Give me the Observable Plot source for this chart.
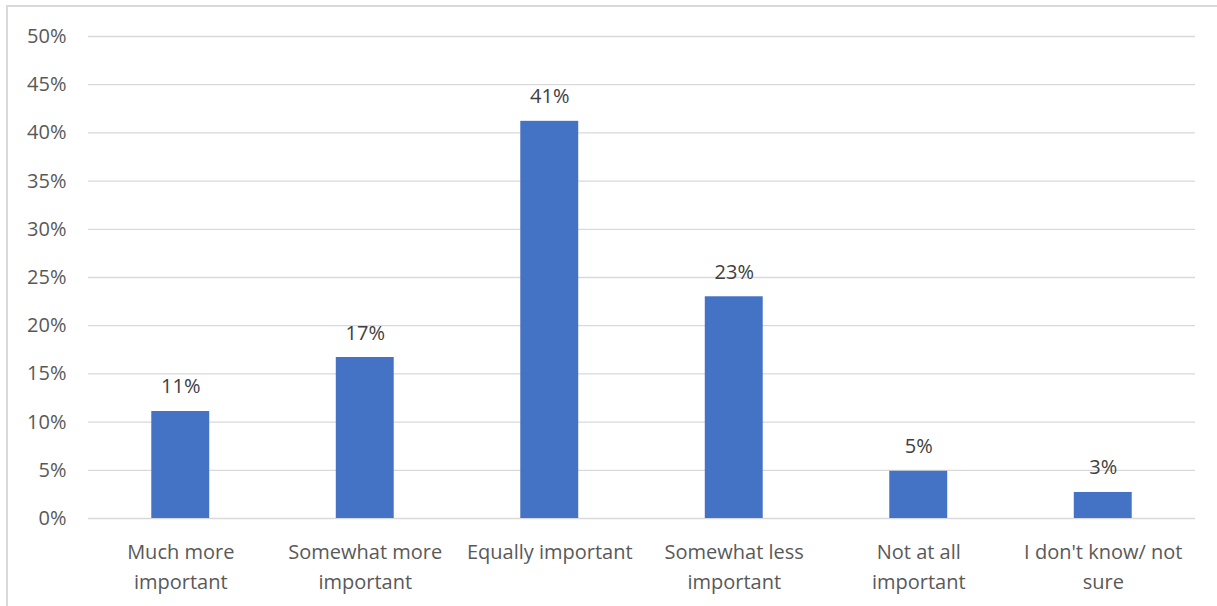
<!DOCTYPE html>
<html>
<head>
<meta charset="utf-8">
<script src="https://cdn.jsdelivr.net/npm/d3@7"></script>
<script src="https://cdn.jsdelivr.net/npm/@observablehq/plot@0.6"></script>
<style>
  html, body { margin: 0; padding: 0; background: #fff; }
  #wrap { position: relative; width: 1217px; height: 606px; overflow: hidden; }
  #frame { position: absolute; left: 6px; top: 5px; width: 1300px; height: 700px; border-left: 2px solid #d9d9d9; border-top: 2px solid #d9d9d9; box-sizing: border-box; pointer-events: none; }
  svg { font-family: "Open Sans", sans-serif; }
</style>
</head>
<body>
<div id="wrap"><div id="frame"></div><div id="chart"></div></div>
<script>
const categories = ["Much more important", "Somewhat more important", "Equally important", "Somewhat less important", "Not at all important", "I don't know/ not sure"];
const tickLabels = ["Much more\nimportant", "Somewhat more\nimportant", "Equally important", "Somewhat less\nimportant", "Not at all\nimportant", "I don't know/ not\nsure"];
const values = [11.1, 16.7, 41.2, 23.0, 4.9, 2.7];
const valueLabels = ["11%", "17%", "41%", "23%", "5%", "3%"];
const yTicks = [0, 5, 10, 15, 20, 25, 30, 35, 40, 45, 50];

const data = categories.map((c, i) => ({category: c, value: values[i], label: valueLabels[i]}));
const labelOf = new Map(categories.map((c, i) => [c, tickLabels[i]]));

const chart = Plot.plot({
  width: 1217,
  height: 606,
  marginLeft: 88,
  marginRight: 22,
  marginTop: 36,
  marginBottom: 88,
  style: {fontFamily: "Open Sans, sans-serif", color: "#595959", background: "transparent"},
  x: {domain: categories, paddingInner: 0.686, paddingOuter: 0.343, round: false, label: null},
  y: {domain: [0, 50], label: null},
  marks: [
    Plot.gridY(yTicks, {stroke: "#d9d9d9", strokeOpacity: 1, strokeWidth: 1.3}),
    Plot.axisY(yTicks, {tickSize: 0, tickPadding: 22, fontSize: 20, fill: "#595959", tickFormat: d => d + "%", label: null}),
    Plot.axisX({tickSize: 0, tickPadding: 19, fontSize: 20, fill: "#595959", lineHeight: 1.5, tickFormat: d => labelOf.get(d), label: null}),
    Plot.barY(data, {x: "category", y: "value", fill: "#4472c4"}),
    Plot.text(data, {x: "category", y: "value", text: "label", lineAnchor: "bottom", dy: -18, fontSize: 20, fill: "#404040"})
  ]
});
document.getElementById("chart").appendChild(chart);
</script>
</body>
</html>
